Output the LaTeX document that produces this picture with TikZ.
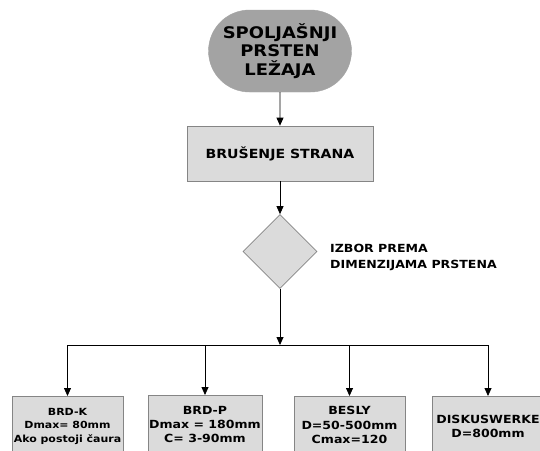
\documentclass[tikz,border=0pt]{standalone}
\usepackage{fontspec}
\setmainfont[FakeStretch=1.12]{DejaVu Sans}
\usetikzlibrary{shapes.geometric,shapes.misc,arrows.meta}
\definecolor{startgray}{HTML}{A3A3A3}
\definecolor{boxgray}{HTML}{DBDBDB}
\definecolor{edgegray}{HTML}{858585}
\tikzset{
  stadium/.style={rounded rectangle, fill=startgray, draw=startgray, minimum width=143pt, minimum height=82pt, inner sep=0pt, align=center, font=\bfseries\fontsize{16}{18.5}\selectfont},
  procbox/.style={rectangle, fill=boxgray, draw=edgegray, line width=0.7pt, inner sep=0pt, align=center},
  decision/.style={diamond, aspect=1, fill=boxgray, draw=edgegray, line width=0.7pt, minimum width=74pt, minimum height=74pt, inner sep=0pt},
  flow/.style={line width=0.8pt, -{Triangle[length=8pt,width=7pt]}},
  busline/.style={line width=0.8pt},
  lbl/.style={align=left, inner sep=0pt, font=\bfseries\fontsize{11.2}{16}\selectfont},
}
\begin{document}
\begin{tikzpicture}[x=1pt,y=-1pt]
\useasboundingbox (0,0) rectangle (540,450);
\clip (0,0) rectangle (540,450);
\fill[white] (0,0) rectangle (540,450);

% start terminal
\node[stadium] (start) at (280,51) {SPOLJAŠNJI\\PRSTEN\\LEŽAJA};

% grinding step
\node[procbox, minimum width=186pt, minimum height=55pt, font=\bfseries\fontsize{12.6}{15}\selectfont] (grind) at (280,153.5) {BRUŠENJE STRANA};

% decision
\node[decision] (choice) at (280,251.5) {};
\node[lbl, anchor=west] (choicelbl) at (330,257) {IZBOR PREMA\\DIMENZIJAMA PRSTENA};

% distribution bus
\coordinate (bus) at (280,345);
\coordinate (busL) at (67.5,345);
\coordinate (busB) at (205,345);
\coordinate (busC) at (349.5,345);
\coordinate (busR) at (488,345);

% machine boxes (run past the lower edge)
\node[procbox, anchor=north, minimum width=111pt, minimum height=70pt] (brdk) at (67.5,396) {};
\node[anchor=north, align=center, inner sep=0pt, font=\bfseries\fontsize{9.8}{13.5}\selectfont] (brdktxt) at (67.5,408) {BRD-K\\Dmax= 80mm\\Ako postoji čaura};

\node[procbox, anchor=north, minimum width=114pt, minimum height=70pt] (brdp) at (205,395) {};
\node[anchor=north, align=center, inner sep=0pt, font=\bfseries\fontsize{11.2}{14}\selectfont] (brdptxt) at (205,406.5) {BRD-P\\Dmax = 180mm\\C= 3-90mm};

\node[procbox, anchor=north, minimum width=111pt, minimum height=70pt] (besly) at (349.5,396) {};
\node[anchor=north, align=center, inner sep=0pt, font=\bfseries\fontsize{11.2}{14.5}\selectfont] (beslytxt) at (349.5,406) {BESLY\\D=50-500mm\\Cmax=120};

\node[procbox, anchor=north, minimum width=112pt, minimum height=70pt] (disk) at (488,396) {};
\node[anchor=north, align=center, inner sep=0pt, font=\bfseries\fontsize{11.2}{14}\selectfont] (disktxt) at (488,414.5) {DISKUSWERKE\\D=800mm};

% connectors
\draw[flow] (start) -- (grind);
\draw[flow] (grind) -- (choice);
\draw[flow] (choice) -- (bus);
\draw[busline] (busL) -- (busR);
\draw[flow] (busL) -- (brdk.north);
\draw[flow] (busB) -- (brdp.north);
\draw[flow] (busC) -- (besly.north);
\draw[flow] (busR) -- (disk.north);
\end{tikzpicture}
\end{document}
